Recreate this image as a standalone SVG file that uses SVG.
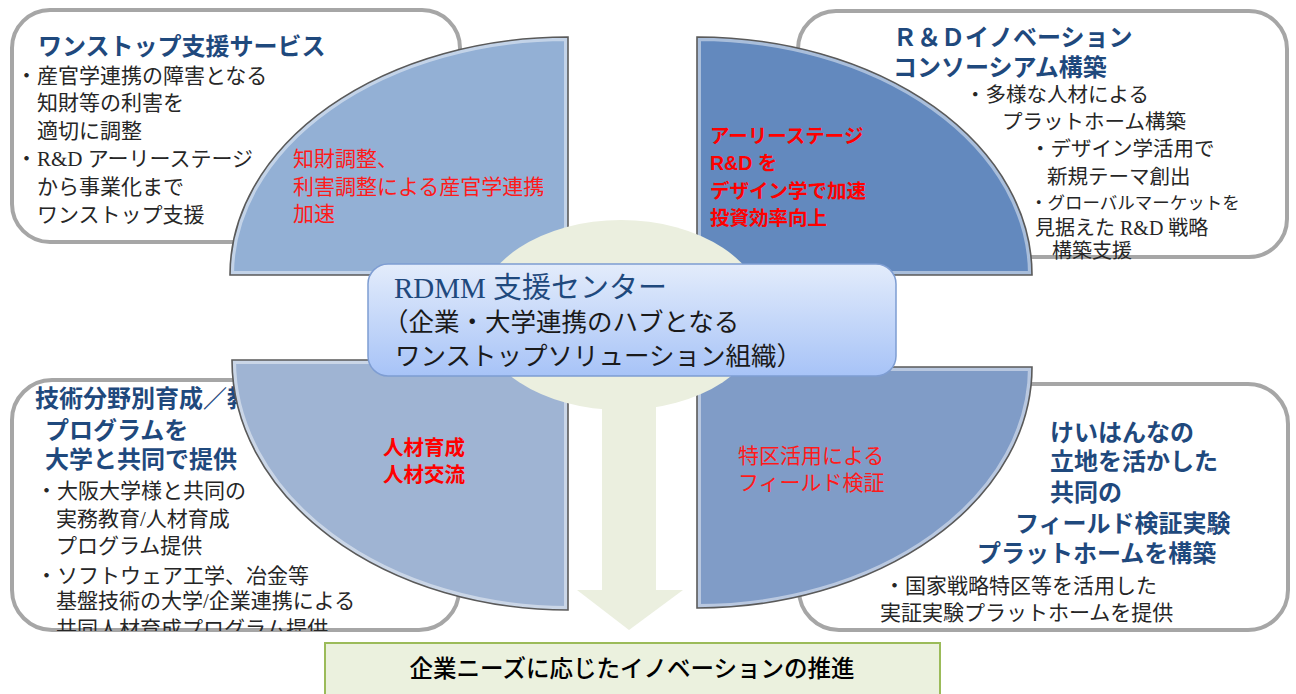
<svg xmlns="http://www.w3.org/2000/svg" width="1296" height="694" viewBox="0 0 1296 694">
<style>
.box{fill:#fff;stroke:#A6A6A6;stroke-width:4}
.h{font-family:"Liberation Serif","Noto Sans CJK JP",serif;font-weight:700;fill:#1F497D;font-size:24px}
.b{font-family:"Liberation Serif","Noto Sans CJK JP",serif;fill:#262626;font-size:21px}
.r{font-family:"Liberation Sans","Noto Sans CJK JP",sans-serif;fill:#FF1A1A;font-size:21px}
.rb{font-family:"Liberation Sans","Noto Sans CJK JP",sans-serif;fill:#FF0000;font-weight:700;font-size:19.5px}
.qo{fill:none;stroke:#5A5A5A;stroke-width:1.6}
.qh{fill:none;stroke:#FFFFFF;stroke-opacity:0.45;stroke-width:8}
.cream{fill:#EBEFDF}
</style>
<defs>
<path id="qtl" d="M568,37 L568,275 L230,275 A338,238 0 0 1 568,37 Z"/>
<path id="qtr" d="M697,275 L697,37 A335,238 0 0 1 1032,275 Z"/>
<path id="qbl" d="M232,360 L568,360 L568,610 A336,250 0 0 1 232,360 Z"/>
<path id="qbr" d="M697,367 L1032,367 A335,241 0 0 1 697,608 Z"/>
<clipPath id="ctl"><use href="#qtl"/></clipPath>
<clipPath id="ctr"><use href="#qtr"/></clipPath>
<clipPath id="cbl"><use href="#qbl"/></clipPath>
<clipPath id="cbr"><use href="#qbr"/></clipPath>
<clipPath id="cbox"><rect x="0" y="370" width="470" height="261"/></clipPath>
<linearGradient id="cg" x1="0" y1="0" x2="0" y2="1">
<stop offset="0" stop-color="#E3ECFB"/>
<stop offset="1" stop-color="#A7C3F7"/>
</linearGradient>
</defs>

<g id="box-tl">
<rect class="box" x="12" y="10" width="448" height="232" rx="38"/>
<text class="h" x="38" y="55">ワンストップ支援サービス</text>
<text class="b" x="16" y="83">・産官学連携の障害となる</text>
<text class="b" x="37" y="110">知財等の利害を</text>
<text class="b" x="37" y="138">適切に調整</text>
<text class="b" x="16" y="166">・R&amp;D アーリーステージ</text>
<text class="b" x="37" y="194">から事業化まで</text>
<text class="b" x="37" y="222">ワンストップ支援</text>
</g>

<g id="box-tr">
<rect class="box" x="798" y="11" width="489" height="246" rx="38"/>
<text class="h" x="893" y="46">Ｒ＆Ｄイノベーション</text>
<text class="h" x="893" y="76">コンソーシアム構築</text>
<text class="b" x="965" y="102" style="font-size:20.5px">・多様な人材による</text>
<text class="b" x="1002" y="129" style="font-size:20.5px">プラットホーム構築</text>
<text class="b" x="1030" y="156" style="font-size:20.5px">・デザイン学活用で</text>
<text class="b" x="1047" y="184" style="font-size:20.5px">新規テーマ創出</text>
<text class="b" x="1030" y="209" style="font-size:17.5px">・グローバルマーケットを</text>
<text class="b" x="1035" y="235" style="font-size:20px">見据えた R&amp;D 戦略</text>
<text class="b" x="1052" y="258" style="font-size:20px">構築支援</text>
</g>

<g id="box-bl">
<rect class="box" x="12" y="380" width="447" height="250" rx="40"/>
<text class="h" x="35" y="407">技術分野別育成／教</text>
<text class="h" x="45" y="439">プログラムを</text>
<text class="h" x="45" y="468">大学と共同で提供</text>
<text class="b" x="36" y="498">・大阪大学様と共同の</text>
<text class="b" x="56" y="526">実務教育/人材育成</text>
<text class="b" x="56" y="553">プログラム提供</text>
<text class="b" x="36" y="583">・ソフトウェア工学、冶金等</text>
<text class="b" x="56" y="608">基盤技術の大学/企業連携による</text>
<text class="b" x="56" y="636" clip-path="url(#cbox)">共同人材育成プログラム提供</text>
</g>

<g id="box-br">
<rect class="box" x="799" y="384" width="489" height="246" rx="40"/>
<text class="h" x="1050" y="441">けいはんなの</text>
<text class="h" x="1050" y="470">立地を活かした</text>
<text class="h" x="1050" y="501">共同の</text>
<text class="h" x="1015" y="532">フィールド検証実験</text>
<text class="h" x="977" y="562">プラットホームを構築</text>
<text class="b" x="884" y="593">・国家戦略特区等を活用した</text>
<text class="b" x="880" y="620">実証実験プラットホームを提供</text>
</g>

<g id="quad-tl">
<use href="#qtl" fill="#93B0D5"/>
<use href="#qtl" class="qh" clip-path="url(#ctl)"/>
<use href="#qtl" class="qo"/>
<text class="r" x="293" y="166">知財調整、</text>
<text class="r" x="293" y="194">利害調整による産官学連携</text>
<text class="r" x="293" y="221">加速</text>
</g>

<g id="quad-tr">
<use href="#qtr" fill="#6389BE"/>
<use href="#qtr" class="qh" clip-path="url(#ctr)"/>
<use href="#qtr" class="qo"/>
<text class="rb" x="710" y="143">アーリーステージ</text>
<text class="rb" x="710" y="170">R&amp;D を</text>
<text class="rb" x="710" y="198">デザイン学で加速</text>
<text class="rb" x="710" y="225">投資効率向上</text>
</g>

<g id="quad-bl">
<use href="#qbl" fill="#9FB4D3"/>
<use href="#qbl" class="qh" clip-path="url(#cbl)"/>
<use href="#qbl" class="qo"/>
<text class="rb" x="383" y="455" style="font-size:20.5px">人材育成</text>
<text class="rb" x="383" y="482" style="font-size:20.5px">人材交流</text>
</g>

<g id="quad-br">
<use href="#qbr" fill="#809CC7"/>
<use href="#qbr" class="qh" clip-path="url(#cbr)"/>
<use href="#qbr" class="qo"/>
<text class="r" x="738" y="463">特区活用による</text>
<text class="r" x="738" y="490">フィールド検証</text>
</g>

<g id="hub-ellipse">
<ellipse class="cream" cx="621" cy="315" rx="144" ry="95"/>
</g>

<g id="connectors">
<polygon class="cream" points="602,405 656,405 656,590 683,590 629,630 577,590 602,590"/>
</g>

<g id="center">
<rect x="368" y="264" width="528" height="112" rx="20" fill="url(#cg)" stroke="#7E9DD2" stroke-width="1.5"/>
<text class="h" x="394" y="298" style="font-size:29px;font-weight:400">RDMM 支援センター</text>
<text class="b" x="383" y="331" style="font-size:25.5px;fill:#1a1a1a">（企業・大学連携のハブとなる</text>
<text class="b" x="395" y="365" style="font-size:25.5px;fill:#1a1a1a">ワンストップソリューション組織）</text>
</g>

<g id="banner">
<rect x="325" y="643" width="615" height="60" fill="#EBF1DE" stroke="#9BBB59" stroke-width="2"/>
<text x="632" y="677" text-anchor="middle" style="font-family:'Noto Sans CJK JP',sans-serif;font-size:23.5px;font-weight:500;fill:#000">企業ニーズに応じたイノベーションの推進</text>
</g>
</svg>
